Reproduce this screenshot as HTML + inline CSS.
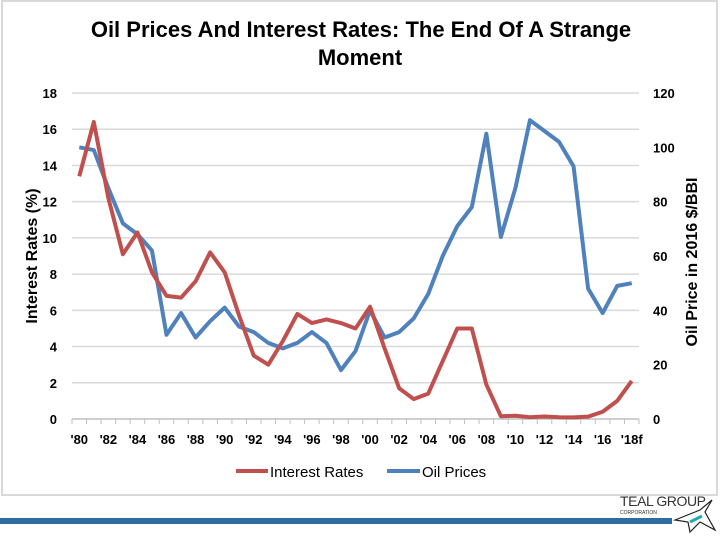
<!DOCTYPE html>
<html><head><meta charset="utf-8"><style>
body{margin:0;width:720px;height:540px;background:#fff;overflow:hidden;font-family:"Liberation Sans",Arial,sans-serif}
svg text{font-family:"Liberation Sans",Arial,sans-serif}
</style></head><body>
<svg width="720" height="540" viewBox="0 0 720 540">
<rect x="2" y="1" width="715" height="494" fill="#fff" stroke="#d9d9d9" stroke-width="2"/>
<text x="361" y="37" font-size="22" font-weight="bold" text-anchor="middle">Oil Prices And Interest Rates: The End Of A Strange</text>
<text x="360" y="65" font-size="22" font-weight="bold" text-anchor="middle">Moment</text>
<g id="grid"></g><g id="axes"></g><g id="series"></g>
<text transform="translate(37,256) rotate(-90)" font-size="16" font-weight="bold" text-anchor="middle">Interest Rates (%)</text>
<text transform="translate(697,262) rotate(-90)" font-size="16" font-weight="bold" text-anchor="middle">Oil  Price in 2016 $/BBI</text>
<g>
<line x1="236" y1="471" x2="268" y2="471" stroke="#c0504d" stroke-width="4"/>
<text x="270" y="477" font-size="15">Interest Rates</text>
<line x1="387" y1="471" x2="420" y2="471" stroke="#4f81bd" stroke-width="4"/>
<text x="422" y="477" font-size="15">Oil Prices</text>
</g>
<rect x="0" y="518" width="672" height="6" fill="#2e6b9e"/>
<text x="620" y="506" font-size="14" fill="#333" textLength="86">TEAL GROUP</text>
<text x="620" y="514" font-size="5" fill="#333">CORPORATION</text>
<path d="M675 520 L700 510 L712 500 L705 512 L715 530 L700 522 L690 532 L688 522 Z" fill="#fff" stroke="#222" stroke-width="1.2"/>
<path d="M690 522 L702 516" stroke="#2aa" stroke-width="3"/>
</svg>
<script>
const years=['80','81','82','83','84','85','86','87','88','89','90','91','92','93','94','95','96','97','98','99','00','01','02','03','04','05','06','07','08','09','10','11','12','13','14','15','16','17','18f'];
const rates=[13.4,16.4,12.2,9.1,10.3,8.1,6.8,6.7,7.6,9.2,8.1,5.7,3.5,3.0,4.3,5.8,5.3,5.5,5.3,5.0,6.2,3.9,1.7,1.1,1.4,3.2,5.0,5.0,1.9,0.15,0.18,0.1,0.14,0.1,0.09,0.13,0.4,1.0,2.1];
const oil=[100,99,85,72,68,62,31,39,30,36,41,34,32,28,26,28,32,28,18,25,40,30,32,37,46,60,71,78,105,67,85,110,106,102,93,48,39,49,50];
const leftTicks=[0,2,4,6,8,10,12,14,16,18];
const rightTicks=[0,20,40,60,80,100,120];
const NS='http://www.w3.org/2000/svg';
const X0=72,X1=639,Y0=419,Y1=93;
const band=(X1-X0)/years.length;
const x=i=>X0+band*(i+0.5);
const yL=v=>Y0-(v/18)*(Y0-Y1);
const yR=v=>Y0-(v/120)*(Y0-Y1);
function mk(t,a,p){const e=document.createElementNS(NS,t);for(const k in a)e.setAttribute(k,a[k]);p.appendChild(e);return e;}
const grid=document.getElementById('grid'),axes=document.getElementById('axes'),ser=document.getElementById('series');
leftTicks.forEach(v=>{
 const l=mk('line',{x1:X0,x2:X1,y1:yL(v),y2:yL(v),stroke:v===0?'#bfbfbf':'#d9d9d9','stroke-width':1.5},grid);
 
 
 const t=mk('text',{x:57,y:yL(v)+5,'font-size':13,'font-weight':'bold','text-anchor':'end'},axes);t.textContent=v;
 
 
});
rightTicks.forEach(v=>{
 const t=mk('text',{x:653,y:yR(v)+5,'font-size':13,'font-weight':'bold'},axes);t.textContent=v;
 
 
});
for(let i=0;i<=years.length;i++){
 const tk=mk('line',{x1:X0+band*i,x2:X0+band*i,y1:Y0,y2:Y0+5,stroke:'#bfbfbf'},axes);
 
 
}
years.forEach((y,i)=>{if(i%2)return;
 const t=mk('text',{x:x(i),y:444,'font-size':13,'font-weight':'bold','text-anchor':'middle'},axes);t.textContent="'"+y;
 
 
});
const p1=mk('polyline',{points:oil.map((v,i)=>x(i)+','+yR(v)).join(' '),fill:'none',stroke:'#4f81bd','stroke-width':4,'stroke-linejoin':'round'},ser);


const p2=mk('polyline',{points:rates.map((v,i)=>x(i)+','+yL(v)).join(' '),fill:'none',stroke:'#c0504d','stroke-width':4,'stroke-linejoin':'round'},ser);


</script>
</body></html>
